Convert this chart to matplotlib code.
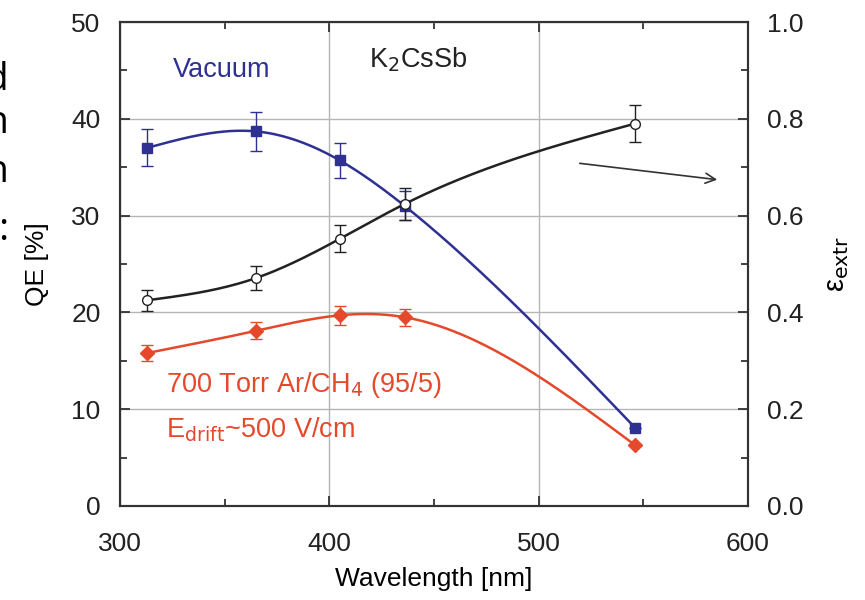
import numpy as np
import matplotlib.pyplot as plt
from matplotlib.ticker import MultipleLocator

plt.rcParams['font.family'] = ['Liberation Sans', 'DejaVu Sans']

# data
wl = [313, 365, 405, 436, 546]
qe_vac = [37.0, 38.7, 35.7, 31.0, 8.1]
qe_vac_err = [1.9, 2.0, 1.85, 1.5, 0.0]
qe_gas = [15.8, 18.1, 19.7, 19.5, 6.3]
qe_gas_err = [0.8, 0.9, 1.0, 0.9, 0.0]
eps = [0.425, 0.471, 0.552, 0.624, 0.790]
eps_err = [0.022, 0.025, 0.028, 0.033, 0.038]

blue = "#2e3192"
red = "#e4492b"
dark = "#222222"


def smooth(x, y, n=200):
    # natural cubic spline through the points, only for drawing the line
    x = np.asarray(x, float)
    y = np.asarray(y, float)
    h = np.diff(x)
    m = len(x)
    A = np.zeros((m, m))
    b = np.zeros(m)
    A[0, 0] = A[-1, -1] = 1
    for i in range(1, m - 1):
        A[i, i - 1] = h[i - 1]
        A[i, i] = 2 * (h[i - 1] + h[i])
        A[i, i + 1] = h[i]
        b[i] = 6 * ((y[i + 1] - y[i]) / h[i] - (y[i] - y[i - 1]) / h[i - 1])
    M = np.linalg.solve(A, b)
    xs = np.linspace(x[0], x[-1], n)
    k = np.clip(np.searchsorted(x, xs) - 1, 0, m - 2)
    t1 = x[k + 1] - xs
    t0 = xs - x[k]
    hk = h[k]
    ys = (M[k] * t1**3 / (6 * hk) + M[k + 1] * t0**3 / (6 * hk)
          + (y[k] / hk - M[k] * hk / 6) * t1 + (y[k + 1] / hk - M[k + 1] * hk / 6) * t0)
    return xs, ys


fig = plt.figure(figsize=(8.65, 6), dpi=100)
ax = fig.add_axes([0.1387, 0.1567, 0.726, 0.8066])
ax2 = ax.twinx()

ax.set_xlim(300, 600)
ax.set_ylim(0, 50)
ax2.set_ylim(0, 1.0)

ax.grid(True, color="#b5b5b5", lw=1.0)
ax.set_axisbelow(True)

xs, ys = smooth(wl, qe_vac)
ax.plot(xs, ys, color=blue, lw=1.8, zorder=3)
ax.errorbar(wl, qe_vac, yerr=qe_vac_err, fmt='s', color=blue, ms=7,
            ecolor=blue, elinewidth=1, capsize=4, zorder=4)

xs, ys = smooth(wl, qe_gas)
ax.plot(xs, ys, color=red, lw=1.8, zorder=3)
ax.errorbar(wl, qe_gas, yerr=qe_gas_err, fmt='D', color=red, ms=7,
            ecolor=red, elinewidth=1, capsize=4, zorder=4)

xs, ys = smooth(wl, eps)
ax2.plot(xs, ys, color=dark, lw=1.8, zorder=3)
ax2.errorbar(wl, eps, yerr=eps_err, fmt='o', color=dark, mfc='white', ms=7,
             ecolor=dark, elinewidth=1, capsize=4, zorder=4)

for a in (ax, ax2):
    for s in a.spines.values():
        s.set_color("#333333")
        s.set_linewidth(1.5)

ax.xaxis.set_major_locator(MultipleLocator(100))
ax.xaxis.set_minor_locator(MultipleLocator(50))
ax.yaxis.set_major_locator(MultipleLocator(10))
ax.yaxis.set_minor_locator(MultipleLocator(5))
ax2.yaxis.set_major_locator(MultipleLocator(0.2))
ax2.yaxis.set_minor_locator(MultipleLocator(0.1))
ax2.yaxis.set_major_formatter(plt.FormatStrFormatter('%.1f'))

ax.tick_params(which='both', direction='in', top=True, right=False,
               labelsize=19, colors="#333333", labelcolor="#222222")
ax.tick_params(which='major', length=7, width=1.3)
ax.tick_params(which='minor', length=5, width=1.3)
ax.tick_params(axis='x', which='major', pad=19)
ax.tick_params(axis='y', which='major', pad=14)
ax2.tick_params(which='both', direction='in', labelsize=19,
                colors="#333333", labelcolor="#222222")
ax2.tick_params(which='major', length=7, width=1.3, pad=14)
ax2.tick_params(which='minor', length=5, width=1.3)

ax.set_xlabel("Wavelength [nm]", fontsize=19, labelpad=8)
ax.set_ylabel("QE [%]", fontsize=19, labelpad=16)
ax2.set_ylabel(r"ε$_{\rm extr}$", fontsize=21, labelpad=14, rotation=90)

fig.text(222 / 865, 1 - 70 / 600, "Vacuum", color=blue, fontsize=19.5,
         ha='center', va='center')
fig.text(418 / 865, 1 - 60 / 600, r"K$_2$CsSb", color="#222222", fontsize=19.5,
         ha='center', va='center')
fig.text(166 / 865, 1 - 385 / 600, r"700 Torr Ar/CH$_4$ (95/5)", color=red,
         fontsize=19.5, ha='left', va='center')
fig.text(166 / 865, 1 - 430 / 600, r"E$_{\rm drift}$~500 V/cm", color=red,
         fontsize=19.5, ha='left', va='center')

ax.annotate("", xy=(720 / 865, 1 - 180 / 600), xytext=(577 / 865, 1 - 163 / 600),
            xycoords='figure fraction', textcoords='figure fraction',
            arrowprops=dict(arrowstyle='->', color="#333333", lw=1.2,
                            mutation_scale=18))

# fragments of slide text cut at the left edge
for yy, s in [(90, "d"), (133, "n"), (182, "n")]:
    fig.text(9 / 865, 1 - yy / 600, s, fontsize=28, ha='right', va='baseline',
             family=['Open Sans', 'DejaVu Sans'])
fig.text(8 / 865, 1 - 240 / 600, ":", fontsize=28, ha='right', va='baseline',
         family=['Open Sans', 'DejaVu Sans'])

fig.savefig("out.png", dpi=100)
